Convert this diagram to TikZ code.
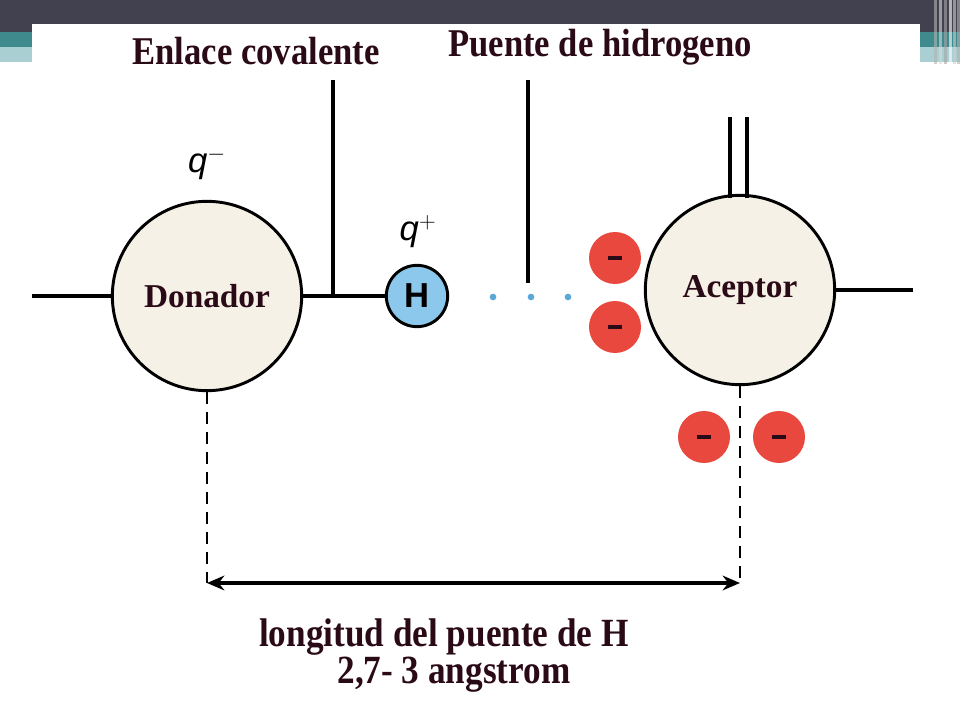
\documentclass[tikz,border=0pt]{standalone}
\usepackage{fontspec}
\setmainfont{Liberation Serif}
\newfontfamily\lblfont[FakeStretch=0.88]{Liberation Serif}
\newfontfamily\qfont{Liberation Sans}
\usetikzlibrary{arrows.meta}
\definecolor{txt}{HTML}{2B0A17}
\definecolor{cream}{HTML}{F6F1E7}
\definecolor{hblue}{HTML}{8CC7EC}
\definecolor{ered}{HTML}{E9483E}
\definecolor{darkbar}{HTML}{41414F}
\definecolor{teal1}{HTML}{3F8A8C}
\definecolor{teal2}{HTML}{A9CFD2}
\definecolor{dotblue}{HTML}{5AA8D8}
\tikzset{
  bond/.style={line width=2.4pt,black},
  atom/.style={circle,draw=black,line width=2.2pt,fill=cream,inner sep=0pt,minimum size=142pt,
    font=\fontsize{25}{28}\selectfont\bfseries,text=txt},
  hatom/.style={circle,draw=black,line width=2.2pt,fill=hblue,inner sep=0pt,minimum size=46pt,
    font=\qfont\fontsize{26}{28}\selectfont\bfseries},
  lone/.style={circle,fill=ered,inner sep=0pt,minimum size=39pt},
  minusbar/.style={line width=2.6pt,txt},
  hdr/.style={font=\lblfont\fontsize{29.5}{32}\selectfont\bfseries,text=txt,inner sep=0pt},
  qlbl/.style={font=\qfont\fontsize{26}{28}\selectfont\itshape,inner sep=0pt},
  hdot/.style={circle,fill=dotblue,inner sep=0pt,minimum size=5pt},
  dimline/.style={line width=2.2pt,black,dash pattern=on 9pt off 6pt},
  dimarrow/.style={line width=3pt,black,{Stealth[length=13pt,width=11pt]}-{Stealth[length=13pt,width=11pt]}},
  bottxt/.style={font=\lblfont\fontsize{30}{32}\selectfont\bfseries,text=txt,inner sep=0pt}
}
\begin{document}
\begin{tikzpicture}[x=0.75pt,y=-0.75pt]
\useasboundingbox (0,0) rectangle (960,720);
% slide background
\fill[white] (0,0) rectangle (960,720);
\fill[darkbar] (0,0) rectangle (960,32);
\fill[teal1] (0,32) rectangle (960,47);
\fill[teal2] (0,47) rectangle (960,62);
\foreach \xx/\cc in {934/gray!60,939/gray!30,944/gray!70,949/white,953/gray!40,957/gray!60}
  \fill[\cc,opacity=0.6] (\xx,0) rectangle (\xx+2.5,64);
\fill[white] (32,24) rectangle (920,720);
% headers
\node[hdr] (hdrE) at (256,51) {Enlace covalente};
\node[hdr] (hdrP) at (600,47) {Puente de hidrogeno};
% atoms
\node[atom] (don) at (207,296) {Donador};
\node[atom] (acc) at (740,290) {Aceptor};
\node[hatom] (H) at (417,296) {H};
% charges
\node[qlbl] (qm) at (207,163) {q$^{-}$};
\node[qlbl] (qp) at (418,232) {q$^{+}$};
% bonds
\coordinate (lend) at (32,296);
\coordinate (rend) at (913,290);
\coordinate (etop) at (333,80);
\coordinate (ebot) at (333,296);
\coordinate (ptop) at (528,80);
\coordinate (pbot) at (528,283);
\draw[bond] (lend) -- (don.west);
\draw[bond] (don.east) -- (H.west);
\draw[bond] (etop) -- (ebot);
\draw[bond] (ptop) -- (pbot);
\draw[bond] (acc.east) -- (rend);
\coordinate (d1) at (730,117);
\coordinate (d2) at (747,117);
\draw[bond] (d1) -- (d1 |- acc.north) -- ++(0,4);
\draw[bond] (d2) -- (d2 |- acc.north) -- ++(0,4);
% hydrogen bond dots
\node[hdot] (h1) at (493,297) {};
\node[hdot] (h2) at (531,297) {};
\node[hdot] (h3) at (568,297) {};
% lone pairs
\foreach \nm/\px/\py in {e1/615/258,e2/615/327,e3/704/437,e4/779/437}{
  \node[lone] (\nm) at (\px,\py) {};
  \draw[minusbar] ([xshift=-5.5pt]\nm.center) -- ([xshift=5.5pt]\nm.center);
}
% dimension
\coordinate (dL) at (207,583);
\coordinate (dR) at (740,583);
\draw[dimline] (don.south) -- (dL);
\draw[dimline] (acc.south) -- (dR);
\draw[dimarrow] (dL) -- (dR);
\node[bottxt] (len1) at (444,637) {longitud del puente de H};
\node[bottxt] (len2) at (454,675) {2,7- 3 angstrom};
\end{tikzpicture}
\end{document}
